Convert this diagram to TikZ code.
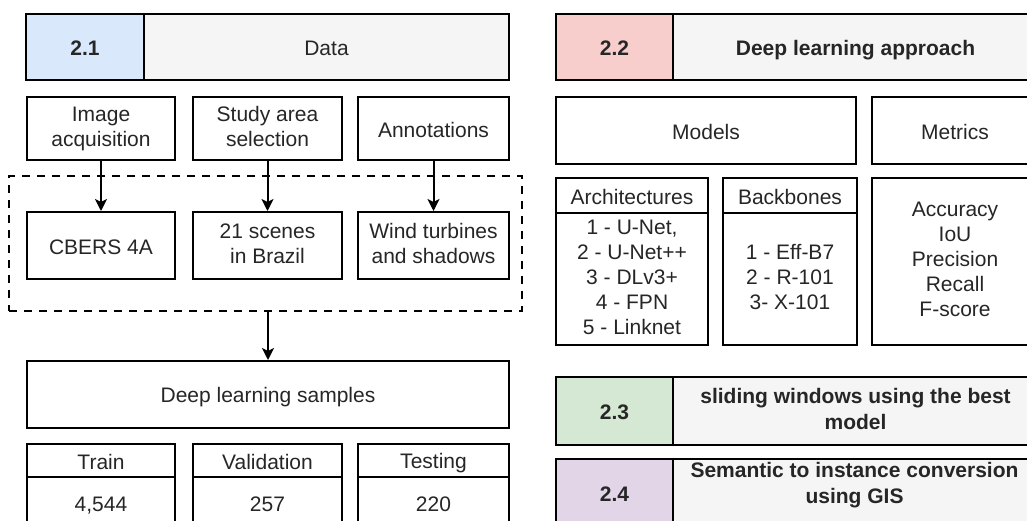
\documentclass[tikz,border=0pt]{standalone}
\usepackage{fontspec}
\setmainfont{Liberation Sans}
\usetikzlibrary{arrows.meta}
\definecolor{secblue}{HTML}{DAE8FC}
\definecolor{secred}{HTML}{F8CECC}
\definecolor{secgreen}{HTML}{D5E8D4}
\definecolor{secpurple}{HTML}{E1D5E7}
\definecolor{titlegray}{HTML}{F5F5F5}
\definecolor{ink}{HTML}{262626}
\newcommand\dfont{\fontsize{21}{25}\selectfont}
\newcommand\dbold{\fontsize{21}{26}\selectfont\bfseries}
% invisible rule giving every text line the same height and depth
\newcommand\lstrut{\rule[-4pt]{0pt}{25pt}}
\begin{document}
\begin{tikzpicture}[x=1pt,y=-1pt,
  txt/.style={font=\dfont, text=ink, align=center, inner sep=0pt,
    execute at begin node=\lstrut, execute at end node=\lstrut},
  box/.style={txt, draw=black, line width=2pt, fill=white, rectangle,
    anchor=north west},
  wh/.style 2 args={minimum width=#1pt, minimum height=#2pt},
  secnum/.style={box, font=\dbold},
  sectitle/.style={box, fill=titlegray},
  group/.style={draw=black, line width=2pt, dash pattern=on 8pt off 7pt,
    rectangle, inner sep=0pt, anchor=north west},
  arr/.style={draw=black, line width=2pt,
    -{Stealth[length=12pt,width=12pt,inset=3pt]}},
]
\useasboundingbox (0,0) rectangle (1027,520);
\clip (0,0) rectangle (1027,520);
\fill[white] (0,0) rectangle (1027,520);

% ---------- 2.1 Data ----------
\node[secnum, fill=secblue, wh={118}{66}] (n21) at (25,13) {2.1};
\node[sectitle, wh={365}{66}] (tdata) at (143,13) {Data};

\node[box, wh={148}{63}] (ia) at (26,96) {Image\\acquisition};
\node[box, wh={149}{63}] (sa) at (192,96) {Study area\\selection};
\node[box, wh={151}{63}] (an) at (357,96) {Annotations};

\node[group, wh={513}{135}] (grp) at (8,175) {};

\node[box, wh={148}{67}] (cb) at (26,211) {CBERS 4A};
\node[box, wh={149}{67}] (sc) at (192,211) {21 scenes\\in Brazil};
\node[box, wh={151}{67}] (wt) at (357,211) {Wind turbines\\and shadows};

\draw[arr] (ia.south) -- (cb.north);
\draw[arr] (sa.south) -- (sc.north);
\draw[arr] (an.south) -- (wt.north);

\node[box, wh={482}{67}] (ds) at (26,360) {Deep learning samples};
\draw[arr] (grp.south -| ds.north) -- (ds.north);

\node[box, wh={148}{33}] (trh) at (26,443) {Train};
\node[box, wh={148}{52}] (trv) at (26,476) {4,544};
\node[box, wh={149}{33}] (vah) at (192,443) {Validation};
\node[box, wh={149}{52}] (vav) at (192,476) {257};
\node[box, wh={151}{33}] (teh) at (357,443) {Testing};
\node[box, wh={151}{52}] (tev) at (357,476) {220};

% ---------- 2.2 Deep learning approach ----------
\node[secnum, fill=secred, wh={117}{66}] (n22) at (555,13) {2.2};
\node[sectitle, font=\dbold, wh={365}{66}] (tdl) at (672,13) {Deep learning approach};

\node[box, wh={300}{67}] (mod) at (555,96) {Models};
\node[box, wh={166}{67}] (met) at (871,96) {Metrics};

\node[box, wh={152}{35}] (arh) at (555,177) {Architectures};
\node[box, wh={152}{132}] (arb) at (555,212)
  {1 - U-Net,\\2 - U-Net++\\3 - DLv3+\\4 - FPN\\5 - Linknet};
\node[box, wh={134}{35}] (bbh) at (722,177) {Backbones};
\node[box, wh={134}{132}] (bbb) at (722,212)
  {1 - Eff-B7\\2 - R-101\\3- X-101};
\node[box, wh={166}{167}] (mls) at (871,177)
  {Accuracy\\IoU\\Precision\\Recall\\F-score};

% ---------- 2.3 and 2.4 ----------
\node[secnum, fill=secgreen, wh={117}{68}] (n23) at (555,376) {2.3};
\node[sectitle, font=\dbold, wh={365}{68}] (tsw) at (672,376)
  {sliding windows using the best\\model};

\node[secnum, fill=secpurple, wh={117}{68}] (n24) at (555,458) {2.4};
\node[sectitle, wh={365}{68}] (tsem) at (672,458) {};
\node[txt, font=\dbold] (tsemtxt)
  at (854.5,485) {Semantic to instance conversion\\using GIS};
\end{tikzpicture}
\end{document}
